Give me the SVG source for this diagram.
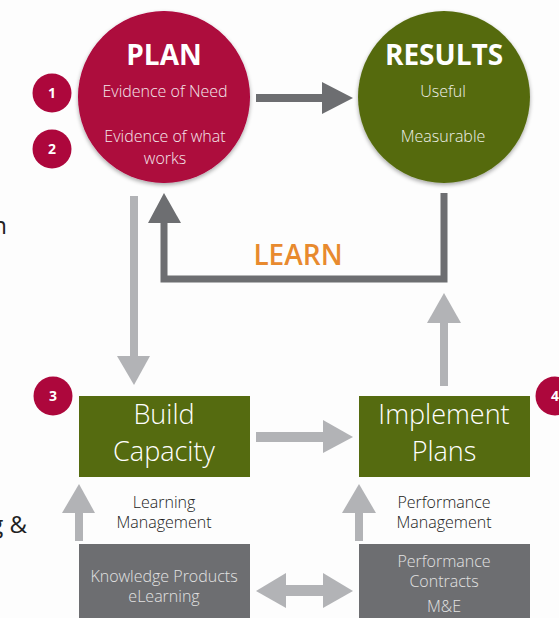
<svg xmlns="http://www.w3.org/2000/svg" width="559" height="618" viewBox="0 0 559 618">
<defs>
<filter id="sh" x="-20%" y="-20%" width="140%" height="140%">
<feGaussianBlur in="SourceAlpha" stdDeviation="2"/>
<feOffset dx="0" dy="1.5"/>
<feComponentTransfer><feFuncA type="linear" slope="0.35"/></feComponentTransfer>
<feMerge><feMergeNode/><feMergeNode in="SourceGraphic"/></feMerge>
</filter>
<style>
.red{fill:#AD073C}
.olive{fill:#556B10}
.grayBox{fill:#6D6E71}
.dk{fill:#6D6E71}
.lt{fill:#B2B3B6}
.title{font-family:"Open Sans","Liberation Sans",sans-serif;font-weight:700;font-size:28px;fill:#fff;text-anchor:middle}
.sub{font-family:"Open Sans","Liberation Sans",sans-serif;font-weight:300;font-size:16px;fill:#F4E8EC;text-anchor:middle}
.subg{font-family:"Open Sans","Liberation Sans",sans-serif;font-weight:300;font-size:16px;fill:#EEF0E8;text-anchor:middle}
.box{font-family:"Open Sans","Liberation Sans",sans-serif;font-weight:300;font-size:27px;fill:#fff;text-anchor:middle}
.lbl{font-family:"Open Sans","Liberation Sans",sans-serif;font-weight:300;font-size:16px;fill:#1A1A1A;text-anchor:middle}
.gtx{font-family:"Open Sans","Liberation Sans",sans-serif;font-weight:300;font-size:16px;fill:#E2E2E2;text-anchor:middle}
.num{font-family:"Open Sans","Liberation Sans",sans-serif;font-weight:700;font-size:14px;fill:#fff;text-anchor:middle}
.edge{font-family:"Open Sans","Liberation Sans",sans-serif;font-weight:400;font-size:24px;fill:#222}
</style>
</defs>
<rect width="559" height="618" fill="#FDFDFD"/>

<g id="clipped-text">
<text class="edge" x="7" y="234" text-anchor="end">n</text>
<text class="edge" x="27" y="533" text-anchor="end">g &amp;</text>
</g>

<g id="connectors">
<rect class="dk" x="256" y="94" width="68" height="8"/>
<polygon class="dk" points="322,82 353,98 322,114"/>
<polyline points="444,193 444,279 164,279 164,222" fill="none" stroke="#6D6E71" stroke-width="7"/>
<polygon class="dk" points="148,223 164,193 181,223"/>
<rect class="lt" x="130" y="196" width="8" height="162"/>
<polygon class="lt" points="117,356 150,356 134,385"/>
<rect class="lt" x="440" y="320" width="8" height="66"/>
<polygon class="lt" points="427,323 444,293 461,323"/>
<rect class="lt" x="256" y="432" width="70" height="10"/>
<polygon class="lt" points="323,420 353,437 323,453"/>
<rect class="lt" x="75" y="510" width="8" height="31"/>
<polygon class="lt" points="62,513 79,484 95,513"/>
<rect class="lt" x="355" y="510" width="8" height="31"/>
<polygon class="lt" points="342,513 359,484 376,513"/>
<rect class="lt" x="283" y="585" width="42" height="11"/>
<polygon class="lt" points="256,591 286,573 286,608"/>
<polygon class="lt" points="353,591 323,573 323,608"/>
<text x="298" y="265" font-family="'Open Sans','Liberation Sans',sans-serif" font-weight="600" font-size="28" fill="#E88A2E" text-anchor="middle">LEARN</text>
</g>

<g id="plan">
<circle class="red" cx="164" cy="97" r="86" filter="url(#sh)"/>
<text class="title" x="164" y="65">PLAN</text>
<text class="sub" x="165" y="97">Evidence of Need</text>
<text class="sub" x="165" y="142">Evidence of what</text>
<text class="sub" x="165" y="164">works</text>
</g>

<g id="results">
<circle class="olive" cx="444" cy="97" r="86" filter="url(#sh)"/>
<text class="title" x="444" y="65">RESULTS</text>
<text class="subg" x="443" y="97">Useful</text>
<text class="subg" x="443" y="142">Measurable</text>
</g>

<g id="badge1"><circle class="red" cx="52" cy="93" r="19.5"/><text class="num" x="52" y="98">1</text></g>
<g id="badge2"><circle class="red" cx="52" cy="149" r="19.5"/><text class="num" x="52" y="154">2</text></g>
<g id="badge3"><circle class="red" cx="53" cy="396" r="19.5"/><text class="num" x="53" y="401">3</text></g>
<g id="badge4"><circle class="red" cx="555" cy="396" r="19.5"/><text class="num" x="555" y="401">4</text></g>

<g id="build-capacity">
<rect class="olive" x="79" y="396" width="171" height="81"/>
<text class="box" x="164" y="424">Build</text>
<text class="box" x="164" y="461">Capacity</text>
</g>

<g id="implement-plans">
<rect class="olive" x="359" y="396" width="171" height="81"/>
<text class="box" x="444" y="424">Implement</text>
<text class="box" x="444" y="461">Plans</text>
</g>

<g id="learning-management">
<text class="lbl" x="164" y="508">Learning</text>
<text class="lbl" x="164" y="528">Management</text>
</g>

<g id="performance-management">
<text class="lbl" x="444" y="508">Performance</text>
<text class="lbl" x="444" y="528">Management</text>
</g>

<g id="knowledge-products">
<rect class="grayBox" x="79" y="544" width="171" height="80"/>
<text class="gtx" x="164" y="582">Knowledge Products</text>
<text class="gtx" x="164" y="602">eLearning</text>
</g>

<g id="performance-contracts">
<rect class="grayBox" x="359" y="544" width="171" height="80"/>
<text class="gtx" x="444" y="567">Performance</text>
<text class="gtx" x="444" y="587">Contracts</text>
<text class="gtx" x="444" y="612">M&amp;E</text>
</g>
</svg>
